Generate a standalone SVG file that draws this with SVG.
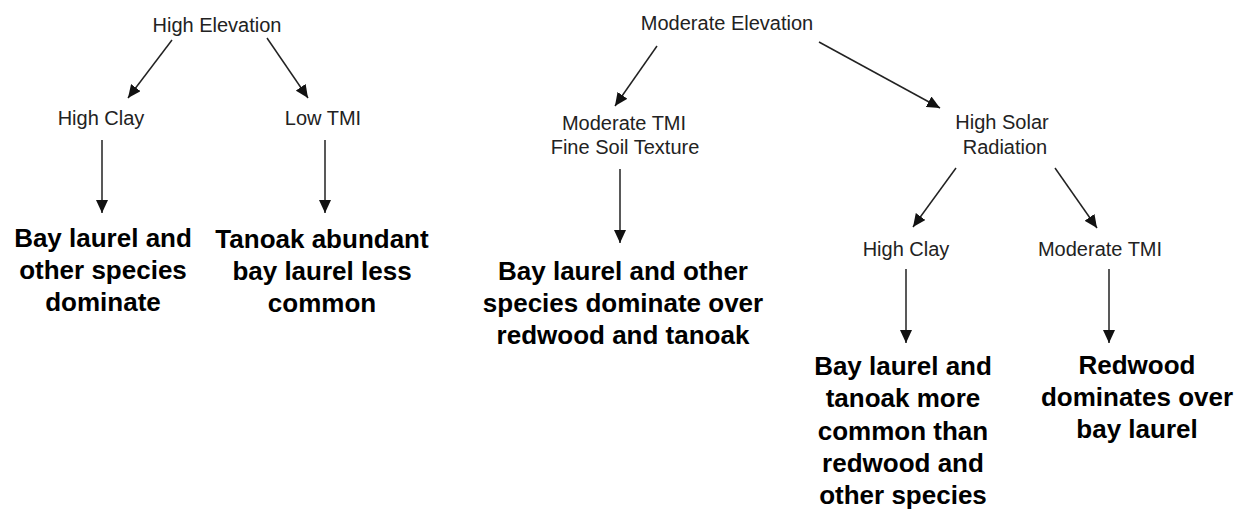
<svg xmlns="http://www.w3.org/2000/svg" width="1242" height="510" viewBox="0 0 1242 510">
<style>
.lbl{font-family:"Liberation Sans",Arial,sans-serif;font-size:20px;fill:#222;text-anchor:middle}
.res{font-family:"Liberation Sans",Arial,sans-serif;font-size:26px;font-weight:bold;fill:#000;text-anchor:middle}
.con line{stroke:#222;stroke-width:1.5;marker-end:url(#ah)}
</style>
<defs>
<marker id="ah" viewBox="0 0 13 12" refX="13" refY="6" markerWidth="13" markerHeight="12" markerUnits="userSpaceOnUse" orient="auto">
<path d="M0,0 L13,6 L0,12 z" fill="#111"/>
</marker>
</defs>
<rect width="1242" height="510" fill="#fff"/>
<g id="n-high-elev"><text class="lbl" x="217" y="32">High Elevation</text></g>
<g id="n-high-clay-1"><text class="lbl" x="101" y="125">High Clay</text></g>
<g id="n-low-tmi"><text class="lbl" x="323" y="125">Low TMI</text></g>
<g id="n-res-1"><text class="res" x="103"><tspan x="103" y="247">Bay laurel and</tspan><tspan x="103" y="279">other species</tspan><tspan x="103" y="311">dominate</tspan></text></g>
<g id="n-res-2"><text class="res" x="322"><tspan x="322" y="248">Tanoak abundant</tspan><tspan x="322" y="280">bay laurel less</tspan><tspan x="322" y="312">common</tspan></text></g>
<g id="n-mod-elev"><text class="lbl" x="727" y="30">Moderate Elevation</text></g>
<g id="n-mod-tmi-fine"><text class="lbl" x="625"><tspan x="624" y="130">Moderate TMI</tspan><tspan x="625" y="154">Fine Soil Texture</tspan></text></g>
<g id="n-high-solar"><text class="lbl" x="1003"><tspan x="1002" y="129">High Solar</tspan><tspan x="1005" y="154">Radiation</tspan></text></g>
<g id="n-res-3"><text class="res" x="623"><tspan x="623" y="280">Bay laurel and other</tspan><tspan x="623" y="312">species dominate over</tspan><tspan x="623" y="344">redwood and tanoak</tspan></text></g>
<g id="n-high-clay-2"><text class="lbl" x="906" y="256">High Clay</text></g>
<g id="n-mod-tmi"><text class="lbl" x="1100" y="256">Moderate TMI</text></g>
<g id="n-res-4"><text class="res" x="903"><tspan x="903" y="375">Bay laurel and</tspan><tspan x="903" y="407">tanoak more</tspan><tspan x="903" y="440">common than</tspan><tspan x="903" y="472">redwood and</tspan><tspan x="903" y="504">other species</tspan></text></g>
<g id="n-res-5"><text class="res" x="1137"><tspan x="1137" y="374">Redwood</tspan><tspan x="1137" y="406">dominates over</tspan><tspan x="1137" y="438">bay laurel</tspan></text></g>
<g id="connectors" class="con">
<line x1="172" y1="40" x2="128" y2="98"/>
<line x1="267" y1="38" x2="308" y2="98"/>
<line x1="102" y1="140" x2="102" y2="213"/>
<line x1="325" y1="140" x2="325" y2="213"/>
<line x1="657" y1="46" x2="615" y2="106"/>
<line x1="819" y1="42" x2="940" y2="108"/>
<line x1="620" y1="169" x2="620" y2="243"/>
<line x1="956" y1="168" x2="913" y2="227"/>
<line x1="1055" y1="168" x2="1097" y2="228"/>
<line x1="906" y1="269" x2="906" y2="343"/>
<line x1="1109" y1="269" x2="1109" y2="343"/>
</g>
</svg>
